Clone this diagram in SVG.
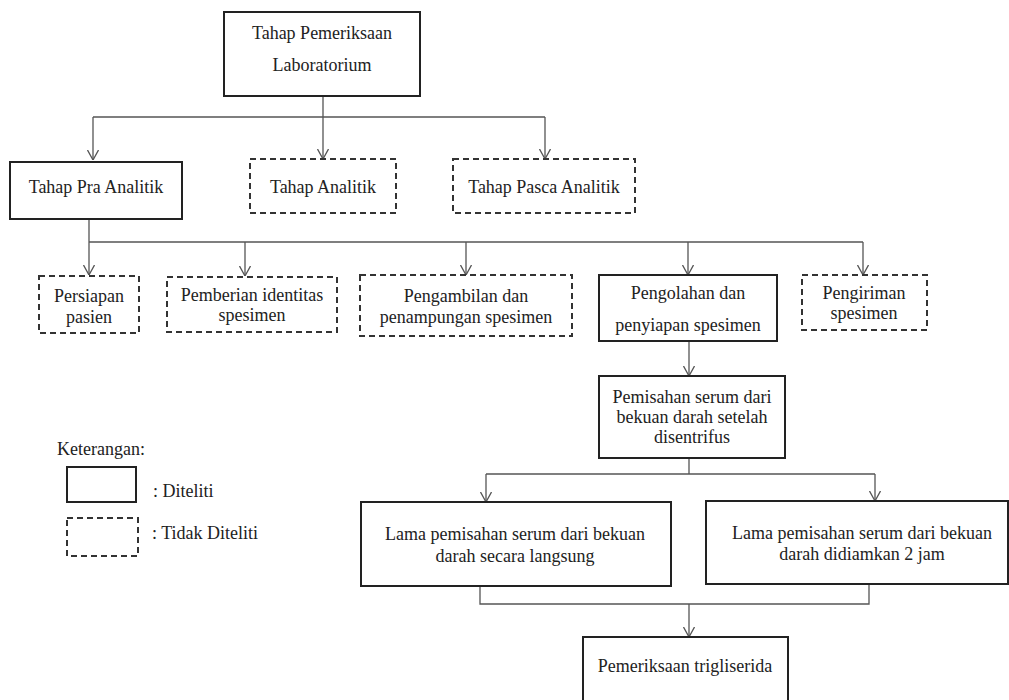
<svg xmlns="http://www.w3.org/2000/svg" width="1009" height="700" viewBox="0 0 1009 700">
<style>
  text { font-family: "Liberation Serif", "Times New Roman", serif; font-size: 18px; fill: #222; }
  .c { text-anchor: middle; }
  .solid { fill: #fff; stroke: #222; stroke-width: 2; }
  .dash { fill: #fff; stroke: #333; stroke-width: 2; stroke-dasharray: 6 4; }
  .conn { fill: none; stroke: #555; stroke-width: 1.3; }
</style>
<defs>
  <marker id="arr" viewBox="0 0 10 12" refX="10" refY="6" markerWidth="10" markerHeight="12" markerUnits="userSpaceOnUse" orient="auto">
    <path d="M0,0.5 L10,6 L0,11.5" fill="none" stroke="#555" stroke-width="1.3"/>
  </marker>
</defs>
<rect width="1009" height="700" fill="#fff"/>

<g id="connectors" class="conn">
  <path d="M323,96 V117 M93,117 H545"/>
  <path d="M93,117 V160" marker-end="url(#arr)"/>
  <path d="M323,117 V159" marker-end="url(#arr)"/>
  <path d="M545,117 V159" marker-end="url(#arr)"/>
  <path d="M89,219 V242 M89,242 H863"/>
  <path d="M89,242 V275" marker-end="url(#arr)"/>
  <path d="M245,242 V276" marker-end="url(#arr)"/>
  <path d="M466,242 V275" marker-end="url(#arr)"/>
  <path d="M688,242 V275" marker-end="url(#arr)"/>
  <path d="M863,242 V275" marker-end="url(#arr)"/>
  <path d="M689,341 V376" marker-end="url(#arr)"/>
  <path d="M689,458 V474 M486,474 H875"/>
  <path d="M486,474 V502" marker-end="url(#arr)"/>
  <path d="M875,474 V501" marker-end="url(#arr)"/>
  <path d="M480,586 V604 H869 V584"/>
  <path d="M689,604 V637" marker-end="url(#arr)"/>
</g>

<g id="n-top">
  <rect class="solid" x="224" y="12" width="196" height="84"/>
  <text class="c" x="322" y="39">Tahap Pemeriksaan</text>
  <text class="c" x="322" y="71">Laboratorium</text>
</g>
<g id="n-pra">
  <rect class="solid" x="10" y="162" width="172" height="57"/>
  <text class="c" x="96" y="193">Tahap Pra Analitik</text>
</g>
<g id="n-analitik">
  <rect class="dash" x="250" y="159" width="146" height="54"/>
  <text class="c" x="323" y="193">Tahap Analitik</text>
</g>
<g id="n-pasca">
  <rect class="dash" x="453" y="159" width="182" height="54"/>
  <text class="c" x="544" y="193">Tahap Pasca Analitik</text>
</g>

<g id="n-persiapan">
  <rect class="dash" x="39" y="276" width="100" height="57"/>
  <text class="c" x="89" y="302">Persiapan</text>
  <text class="c" x="89" y="323">pasien</text>
</g>
<g id="n-pemberian">
  <rect class="dash" x="167" y="277" width="170" height="55"/>
  <text class="c" x="252" y="301">Pemberian identitas</text>
  <text class="c" x="252" y="321">spesimen</text>
</g>
<g id="n-pengambilan">
  <rect class="dash" x="360" y="275" width="212" height="61"/>
  <text class="c" x="466" y="302">Pengambilan dan</text>
  <text class="c" x="466" y="323">penampungan spesimen</text>
</g>
<g id="n-pengolahan">
  <rect class="solid" x="599" y="275" width="178" height="66"/>
  <text class="c" x="688" y="299">Pengolahan dan</text>
  <text class="c" x="688" y="331">penyiapan spesimen</text>
</g>
<g id="n-pengiriman">
  <rect class="dash" x="802" y="275" width="125" height="55"/>
  <text class="c" x="864" y="299">Pengiriman</text>
  <text class="c" x="864" y="319">spesimen</text>
</g>

<g id="n-pemisahan">
  <rect class="solid" x="599" y="376" width="186" height="82"/>
  <text class="c" x="692" y="403">Pemisahan serum dari</text>
  <text class="c" x="692" y="423">bekuan darah setelah</text>
  <text class="c" x="692" y="443">disentrifus</text>
</g>

<g id="n-langsung">
  <rect class="solid" x="361" y="502" width="310" height="84"/>
  <text class="c" x="515" y="540">Lama pemisahan serum dari bekuan</text>
  <text class="c" x="515" y="562">darah secara langsung</text>
</g>
<g id="n-didiamkan">
  <rect class="solid" x="706" y="501" width="302" height="83"/>
  <text class="c" x="862" y="539">Lama pemisahan serum dari bekuan</text>
  <text class="c" x="862" y="560">darah didiamkan 2 jam</text>
</g>

<g id="n-trigliserida">
  <rect class="solid" x="583" y="637" width="205" height="70"/>
  <text class="c" x="685" y="672">Pemeriksaan trigliserida</text>
</g>

<g id="legend">
  <text x="57" y="455">Keterangan:</text>
  <rect class="solid" x="67" y="467" width="69" height="35"/>
  <text x="153" y="497">: Diteliti</text>
  <rect class="dash" x="67" y="518" width="71" height="38"/>
  <text x="152" y="539">: Tidak Diteliti</text>
</g>
</svg>
